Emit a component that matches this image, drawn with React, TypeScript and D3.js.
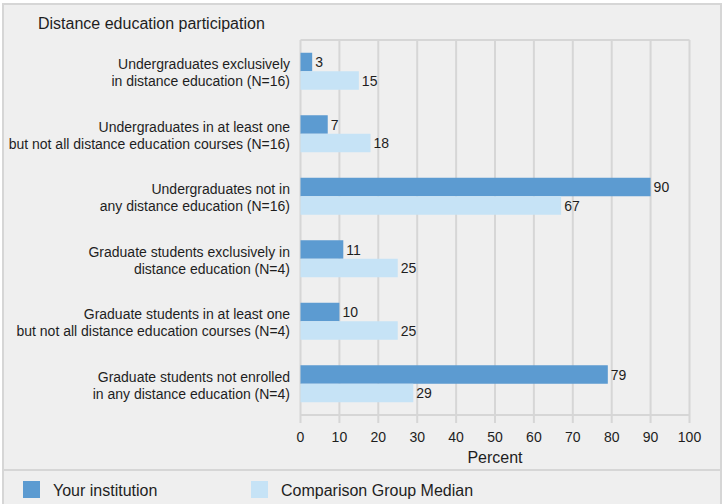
import React from "react";
import { scaleLinear, scaleBand, range } from "d3";

const categories = [
  ["Undergraduates exclusively", "in distance education (N=16)"],
  ["Undergraduates in at least one", "but not all distance education courses (N=16)"],
  ["Undergraduates not in", "any distance education (N=16)"],
  ["Graduate students exclusively in", "distance education (N=4)"],
  ["Graduate students in at least one", "but not all distance education courses (N=4)"],
  ["Graduate students not enrolled", "in any distance education (N=4)"],
];
const yourInstitution = [3, 7, 90, 11, 10, 79];
const comparisonMedian = [15, 18, 67, 25, 25, 29];
const xTicks = [0, 10, 20, 30, 40, 50, 60, 70, 80, 90, 100];
const seriesNames = ["Your institution", "Comparison Group Median"];

const W = 724;
const H = 504;
const plot = { left: 300.5, right: 689.5, top: 40, bottom: 415 };
const colors = ["#5c9bd1", "#c6e3f6"];
const gridColor = "#d6d6d6";
const textColor = "#1e1e1e";
const font = "Arial, 'Liberation Sans', sans-serif";

function App() {
  const x = scaleLinear().domain([0, 100]).range([plot.left, plot.right]);
  const pad = (62.5 - 37) / 62.5;
  const y0 = scaleBand<number>()
    .domain(range(categories.length))
    .range([plot.top, plot.bottom])
    .paddingInner(pad)
    .paddingOuter(pad / 2);
  const y1 = scaleBand<number>().domain([0, 1]).range([0, y0.bandwidth()]);
  const series = [yourInstitution, comparisonMedian];

  return (
    <svg
      width={W}
      height={H}
      style={{ position: "absolute", left: 0, top: 0, display: "block" }}
      fontFamily={font}
    >
      <rect x={0} y={0} width={W} height={H} fill="#fff" />
      <rect x={3} y={4} width={718} height={H} fill="#efefef" stroke={gridColor} strokeWidth={2} />
      <line x1={3} x2={721} y1={470} y2={470} stroke={gridColor} strokeWidth={2} />

      <text x={38} y={29} fontSize={16} fill={textColor}>
        Distance education participation
      </text>

      {/* grid */}
      <line x1={plot.left} x2={plot.right} y1={plot.top} y2={plot.top} stroke={gridColor} strokeWidth={2} />
      {xTicks.map((t) => (
        <line key={t} x1={x(t)} x2={x(t)} y1={plot.top} y2={plot.bottom + 8} stroke={gridColor} strokeWidth={2} />
      ))}
      <line x1={plot.left} x2={plot.right} y1={plot.bottom} y2={plot.bottom} stroke={gridColor} strokeWidth={2} />

      {/* bars */}
      {categories.map((c, i) => (
        <g key={i}>
          {series.map((vals, s) => {
            const by = (y0(i) as number) + (y1(s) as number);
            const bh = y1.bandwidth();
            return (
              <g key={s}>
                <rect x={x(0)} y={by} width={x(vals[i]) - x(0)} height={bh} fill={colors[s]} />
                <text
                  x={x(vals[i]) + 3}
                  y={by + bh / 2 + 5}
                  fontSize={14}
                  fill={textColor}
                >
                  {vals[i]}
                </text>
              </g>
            );
          })}
          {c.map((line, k) => (
            <text
              key={k}
              x={290}
              y={(y0(i) as number) + y0.bandwidth() / 2 - 2 + k * 17}
              textAnchor="end"
              fontSize={14}
              fill={textColor}
            >
              {line}
            </text>
          ))}
        </g>
      ))}

      {/* x axis labels */}
      {xTicks.map((t) => (
        <text key={t} x={x(t)} y={442} textAnchor="middle" fontSize={14} fill={textColor}>
          {t}
        </text>
      ))}
      <text x={(plot.left + plot.right) / 2} y={463} textAnchor="middle" fontSize={16} fill={textColor}>
        Percent
      </text>

      {/* legend */}
      {seriesNames.map((n, s) => (
        <g key={n} transform={`translate(${23 + s * 228},481)`}>
          <rect width={17} height={17} fill={colors[s]} />
          <text x={30} y={15} fontSize={16} fill={textColor}>
            {n}
          </text>
        </g>
      ))}
    </svg>
  );
}

export default App;
